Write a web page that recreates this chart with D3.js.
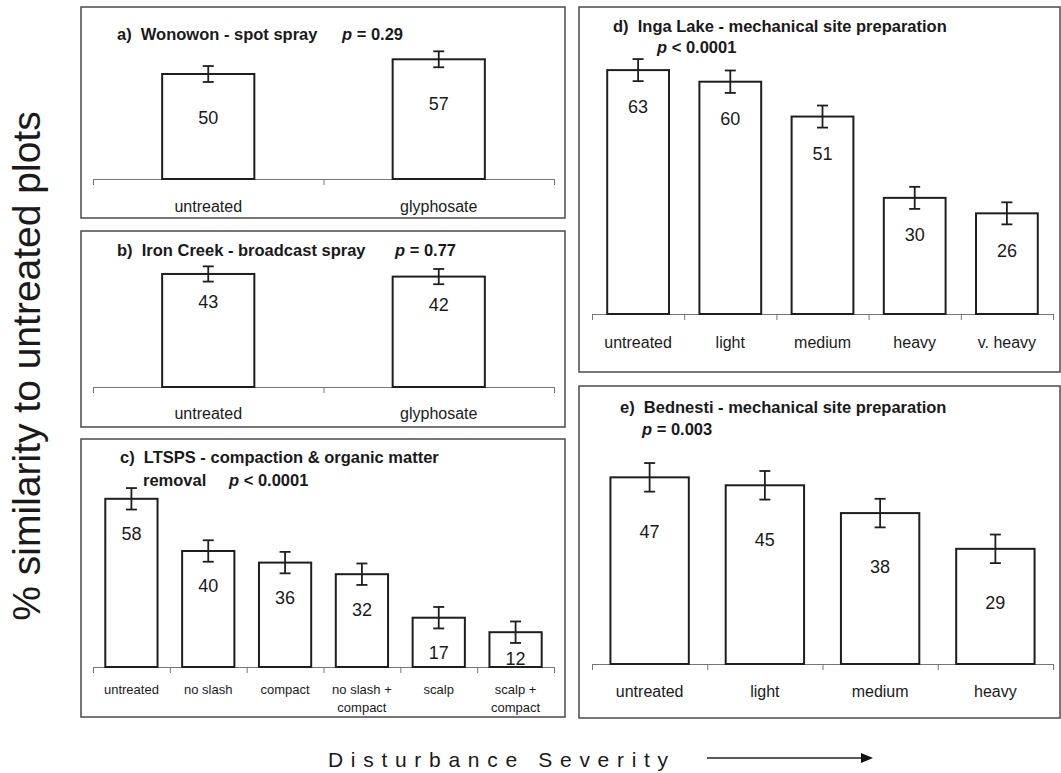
<!DOCTYPE html>
<html>
<head>
<meta charset="utf-8">
<script src="https://cdn.jsdelivr.net/npm/d3@7/dist/d3.min.js"></script>
<style>
  html, body { margin: 0; padding: 0; background: #fff; }
  svg { display: block; font-family: "Liberation Sans", Arial, Helvetica, sans-serif; }
  text { white-space: pre; fill: #1a1a1a; }
</style>
</head>
<body>
<script>
// ---- Data: % similarity to untreated plots (mean ± SE) ----
const aCategories = ["untreated", "glyphosate"];
const aValues = [50, 57];
const aErrors = [3.8, 3.8];
const aTitle = "a)  Wonowon - spot spray";
const aStat = " = 0.29";

const bCategories = ["untreated", "glyphosate"];
const bValues = [43, 42];
const bErrors = [2.9, 2.9];
const bTitle = "b)  Iron Creek - broadcast spray";
const bStat = " = 0.77";

const cCategories = ["untreated", "no slash", "compact", "no slash +\ncompact", "scalp", "scalp +\ncompact"];
const cValues = [58, 40, 36, 32, 17, 12];
const cErrors = [3.7, 3.7, 3.7, 3.7, 3.7, 3.7];
const cTitle = ["c)  LTSPS - compaction & organic matter", "removal"];
const cStat = " < 0.0001";

const dCategories = ["untreated", "light", "medium", "heavy", "v. heavy"];
const dValues = [63, 60, 51, 30, 26];
const dErrors = [2.85, 2.9, 2.85, 2.85, 2.85];
const dTitle = "d)  Inga Lake - mechanical site preparation";
const dStat = " < 0.0001";

const eCategories = ["untreated", "light", "medium", "heavy"];
const eValues = [47, 45, 38, 29];
const eErrors = [3.6, 3.6, 3.6, 3.6];
const eTitle = "e)  Bednesti - mechanical site preparation";
const eStat = " = 0.003";

const yAxisTitle = "% similarity to untreated plots";
const xAxisTitle = "Disturbance Severity";
const yMax = 70;

// ---- Panel layout ----
const panels = [
  { cats: aCategories, vals: aValues, errs: aErrors,
    box: [81, 7, 565, 218], xr: [93, 554], base: 179, top: 32, pad: 0.6,
    title: [{ t: aTitle, x: 117, y: 40 }], stat: { t: aStat, x: 342, y: 40 },
    labOff: 44, catDy: 33, catFont: 16, catLine: 18 },
  { cats: bCategories, vals: bValues, errs: bErrors,
    box: [81, 231, 565, 427], xr: [93, 554], base: 387, top: 203, pad: 0.6,
    title: [{ t: bTitle, x: 117, y: 256 }], stat: { t: bStat, x: 395, y: 256 },
    labOff: 28, catDy: 32, catFont: 16, catLine: 18 },
  { cats: cCategories, vals: cValues, errs: cErrors,
    box: [81, 439, 565, 717], xr: [93, 554], base: 667, top: 464, pad: 0.32,
    title: [{ t: cTitle[0], x: 120, y: 463 }, { t: cTitle[1], x: 143, y: 486 }],
    stat: { t: cStat, x: 229, y: 486 },
    labOff: 35, catDy: 27, catFont: 13, catLine: 18 },
  { cats: dCategories, vals: dValues, errs: dErrors,
    box: [579, 7, 1060, 372], xr: [592, 1053], base: 314, top: 43, pad: 0.33,
    title: [{ t: dTitle, x: 613, y: 32 }], stat: { t: dStat, x: 657, y: 53 },
    labOff: 37, catDy: 34, catFont: 16, catLine: 18 },
  { cats: eCategories, vals: eValues, errs: eErrors,
    box: [579, 386, 1060, 718], xr: [592, 1053], base: 664, top: 386, pad: 0.32,
    title: [{ t: eTitle, x: 620, y: 413 }], stat: { t: eStat, x: 642, y: 435 },
    labOff: 54, catDy: 33, catFont: 16, catLine: 18 }
];

const titleSize = 16.5;

const svg = d3.select("body").append("svg")
  .attr("width", 1061).attr("height", 773);

panels.forEach(p => {
  const g = svg.append("g");
  const data = p.cats.map((c, i) => ({ cat: c, v: p.vals[i], se: p.errs[i] }));

  // frame
  g.append("rect")
    .attr("x", p.box[0]).attr("y", p.box[1])
    .attr("width", p.box[2] - p.box[0]).attr("height", p.box[3] - p.box[1])
    .attr("fill", "none").attr("stroke", "#4a4a4a").attr("stroke-width", 1.5);

  const x = d3.scaleBand().domain(p.cats).range(p.xr)
    .paddingInner(p.pad).paddingOuter(p.pad / 2);
  const y = d3.scaleLinear().domain([0, yMax]).range([p.base, p.top]);

  // category axis with ticks on the band boundaries
  const edge = d3.scaleLinear().domain([0, p.cats.length]).range(p.xr);
  const axis = g.append("g")
    .attr("transform", `translate(0,${p.base})`)
    .call(d3.axisBottom(edge).tickValues(d3.range(p.cats.length + 1))
      .tickFormat("").tickSize(6).tickSizeOuter(0));
  axis.select(".domain").attr("stroke", "#777").attr("stroke-width", 1);
  axis.selectAll(".tick line").attr("stroke", "#777").attr("stroke-width", 1);

  // bars
  g.selectAll("rect.bar").data(data).enter().append("rect")
    .attr("class", "bar")
    .attr("x", d => x(d.cat)).attr("y", d => y(d.v))
    .attr("width", x.bandwidth()).attr("height", d => y(0) - y(d.v))
    .attr("fill", "#fff").attr("stroke", "#1e1e1e").attr("stroke-width", 2);

  // error bars
  const cap = 5.5;
  const eb = g.selectAll("g.err").data(data).enter().append("g")
    .attr("class", "err").attr("stroke", "#1e1e1e").attr("stroke-width", 1.8);
  eb.append("line")
    .attr("x1", d => x(d.cat) + x.bandwidth() / 2).attr("x2", d => x(d.cat) + x.bandwidth() / 2)
    .attr("y1", d => y(d.v - d.se)).attr("y2", d => y(d.v + d.se));
  eb.append("line")
    .attr("x1", d => x(d.cat) + x.bandwidth() / 2 - cap).attr("x2", d => x(d.cat) + x.bandwidth() / 2 + cap)
    .attr("y1", d => y(d.v + d.se)).attr("y2", d => y(d.v + d.se));
  eb.append("line")
    .attr("x1", d => x(d.cat) + x.bandwidth() / 2 - cap).attr("x2", d => x(d.cat) + x.bandwidth() / 2 + cap)
    .attr("y1", d => y(d.v - d.se)).attr("y2", d => y(d.v - d.se));

  // value labels inside the bars
  g.selectAll("text.val").data(data).enter().append("text")
    .attr("class", "val")
    .attr("x", d => x(d.cat) + x.bandwidth() / 2)
    .attr("y", d => y(d.v) + Math.min(p.labOff, (y(0) - y(d.v)) * 0.75))
    .attr("dy", "0.35em")
    .attr("text-anchor", "middle").attr("font-size", 18)
    .text(d => d.v);

  // category labels
  const cl = g.selectAll("text.cat").data(data).enter().append("text")
    .attr("class", "cat")
    .attr("text-anchor", "middle").attr("font-size", p.catFont);
  cl.each(function (d) {
    const t = d3.select(this);
    d.cat.split("\n").forEach((line, i) => {
      t.append("tspan")
        .attr("x", x(d.cat) + x.bandwidth() / 2)
        .attr("y", p.base + p.catDy + i * p.catLine)
        .text(line);
    });
  });

  // panel titles
  p.title.forEach(tl => {
    g.append("text").attr("x", tl.x).attr("y", tl.y)
      .attr("font-size", titleSize).attr("font-weight", "bold").text(tl.t);
  });
  const st = g.append("text").attr("x", p.stat.x).attr("y", p.stat.y)
    .attr("font-size", titleSize).attr("font-weight", "bold");
  st.append("tspan").attr("font-style", "italic").text("p");
  st.append("tspan").text(p.stat.t);
});

// shared y-axis title
svg.append("text")
  .attr("transform", "translate(40,366) rotate(-90)")
  .attr("text-anchor", "middle").attr("font-size", 39)
  .attr("fill", "#222")
  .text(yAxisTitle);

// shared x-axis title with arrow
svg.append("text")
  .attr("x", 328).attr("y", 767)
  .attr("font-size", 21).attr("letter-spacing", "7.7px")
  .text(xAxisTitle);

svg.append("defs").append("marker")
  .attr("id", "arrowhead").attr("viewBox", "0 0 12 10")
  .attr("refX", 0).attr("refY", 5)
  .attr("markerWidth", 12).attr("markerHeight", 10)
  .attr("markerUnits", "userSpaceOnUse").attr("orient", "auto")
  .append("path").attr("d", "M0,0 L12,5 L0,10 Z").attr("fill", "#111");

svg.append("line")
  .attr("x1", 707).attr("x2", 861).attr("y1", 758).attr("y2", 758)
  .attr("stroke", "#222").attr("stroke-width", 1.5)
  .attr("marker-end", "url(#arrowhead)");
</script>
</body>
</html>
